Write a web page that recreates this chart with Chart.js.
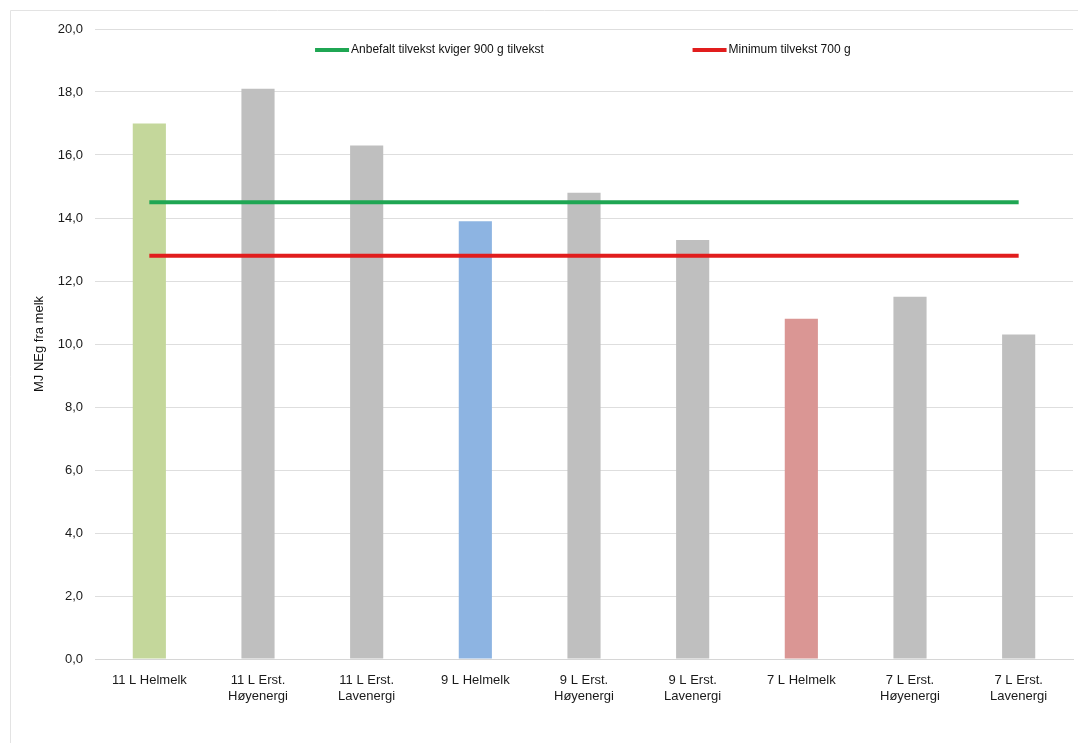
<!DOCTYPE html>
<html>
<head>
<meta charset="utf-8">
<script src="https://cdn.jsdelivr.net/npm/chart.js@4.4.1/dist/chart.umd.min.js"></script>
<style>
  html, body { margin: 0; padding: 0; background: #fff; overflow: hidden; }
  #wrap { position: relative; width: 1078px; height: 743px; }
</style>
</head>
<body>
<div id="wrap"><canvas id="chart" width="1078" height="743"></canvas></div>
<script>
// kategorier og verdier lest av figuren
const categories = [
  '11 L Helmelk', ['11 L Erst.', 'Høyenergi'], ['11 L Erst.', 'Lavenergi'],
  '9 L Helmelk', ['9 L Erst.', 'Høyenergi'], ['9 L Erst.', 'Lavenergi'],
  '7 L Helmelk', ['7 L Erst.', 'Høyenergi'], ['7 L Erst.', 'Lavenergi']
];
const mjNeg = [17.0, 18.1, 16.3, 13.9, 14.8, 13.3, 10.8, 11.5, 10.3];
const anbefalt = [14.5, 14.5, 14.5, 14.5, 14.5, 14.5, 14.5, 14.5, 14.5];
const minimum = [12.8, 12.8, 12.8, 12.8, 12.8, 12.8, 12.8, 12.8, 12.8];
const yTicks = [0, 2, 4, 6, 8, 10, 12, 14, 16, 18, 20];

const barColors = ['#c4d79b', '#bfbfbf', '#bfbfbf', '#8db4e2', '#bfbfbf', '#bfbfbf', '#da9694', '#bfbfbf', '#bfbfbf'];

// ramme rundt diagrammet
const framePlugin = {
  id: 'frame',
  beforeDraw(chart) {
    const ctx = chart.ctx;
    ctx.save();
    ctx.strokeStyle = '#e3e3e3';
    ctx.lineWidth = 1;
    ctx.beginPath();
    ctx.moveTo(10.5, 743);
    ctx.lineTo(10.5, 10.5);
    ctx.lineTo(1078, 10.5);
    ctx.stroke();
    ctx.restore();
  }
};

// forklaring inne i plottet, som i Excel
const legendPlugin = {
  id: 'innerLegend',
  afterDraw(chart) {
    const ctx = chart.ctx;
    const area = chart.chartArea;
    const starts = [0.225, 0.611];
    const y = area.top + 21;
    ctx.save();
    ctx.font = '12px "Liberation Sans"';
    ctx.textBaseline = 'middle';
    [0, 1].forEach((i, k) => {
      const ds = chart.data.datasets[i];
      const x = area.left + area.width * starts[k];
      ctx.strokeStyle = ds.borderColor;
      ctx.lineWidth = 4;
      ctx.beginPath();
      ctx.moveTo(x, y);
      ctx.lineTo(x + 34, y);
      ctx.stroke();
      ctx.fillStyle = '#111';
      ctx.fillText(ds.label, x + 36, y);
    });
    ctx.restore();
  }
};

const ctx = document.getElementById('chart').getContext('2d');
new Chart(ctx, {
  type: 'bar',
  data: {
    labels: categories,
    datasets: [
      {
        type: 'line',
        label: 'Anbefalt tilvekst kviger 900 g tilvekst',
        data: anbefalt,
        borderColor: '#1fa653',
        backgroundColor: '#1fa653',
        borderWidth: 4,
        pointRadius: 0,
        order: 0
      },
      {
        type: 'line',
        label: 'Minimum tilvekst 700 g',
        data: minimum,
        borderColor: '#e11d1d',
        backgroundColor: '#e11d1d',
        borderWidth: 4,
        pointRadius: 0,
        order: 0
      },
      {
        label: 'MJ NEg fra melk',
        data: mjNeg,
        backgroundColor: barColors,
        categoryPercentage: 1,
        barPercentage: 0.305,
        order: 1
      }
    ]
  },
  options: {
    responsive: false,
    animation: false,
    layout: { padding: { top: 29, right: 5, left: 0, bottom: 0 } },
    plugins: {
      tooltip: { enabled: false },
      legend: { display: false }
    },
    scales: {
      x: {
        grid: { display: false },
        border: { color: '#d6d6d6' },
        ticks: {
          color: '#1a1a1a',
          font: { family: 'Liberation Sans', size: 13 },
          maxRotation: 0,
          autoSkip: false,
          padding: 6
        },
        afterFit: s => { s.height = 84; }
      },
      y: {
        min: 0,
        max: 20,
        afterBuildTicks: s => { s.ticks = yTicks.map(v => ({ value: v })); },
        grid: { color: '#dedede', drawTicks: false },
        border: { display: false },
        ticks: {
          color: '#1a1a1a',
          padding: 12,
          font: { family: 'Liberation Sans', size: 13 },
          callback: v => v.toFixed(1).replace('.', ',')
        },
        title: {
          display: true,
          text: 'MJ NEg fra melk',
          color: '#111',
          padding: { top: 32, bottom: 4 },
          font: { family: 'Liberation Sans', size: 13 }
        },
        afterFit: s => { s.width = 95; }
      }
    }
  },
  plugins: [framePlugin, legendPlugin]
});
</script>
</body>
</html>
